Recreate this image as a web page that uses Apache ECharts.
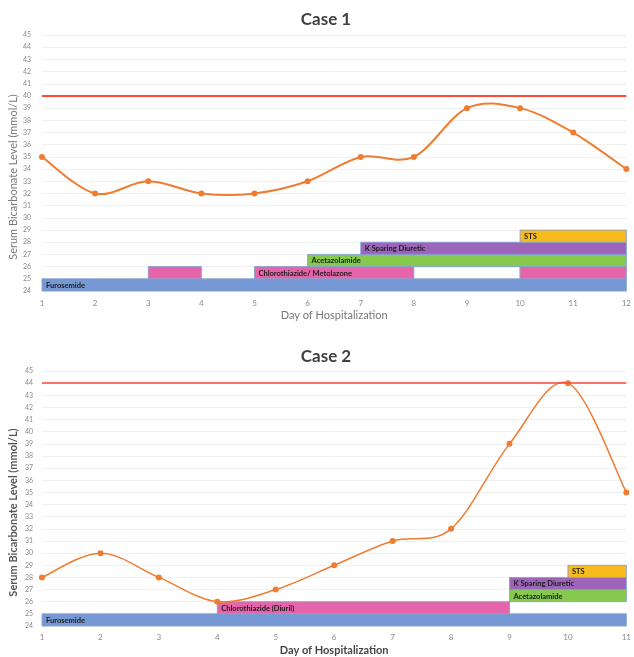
<!DOCTYPE html>
<html>
<head>
<meta charset="utf-8">
<script src="https://cdn.jsdelivr.net/npm/echarts@6/dist/echarts.min.js"></script>
<style>
html,body{margin:0;padding:0;background:#fff;}
#chart{width:634px;height:657px;}
</style>
</head>
<body>
<div id="chart"></div>
<script>
// ---------- DATA ----------
const yMin = 24;
const yMax = 45;

const case1Days = [1,2,3,4,5,6,7,8,9,10,11,12];
const case1Bicarbonate = [35,32,33,32,32,33,35,35,39,39,37,34];
const case1Limit = 40;
const case1DrugKind  = ["furosemide","thiazide","thiazide","none","thiazide","acetazolamide","ksparing","sts"];
const case1DrugLabel = ["Furosemide","","Chlorothiazide/ Metolazone","","","Acetazolamide","K Sparing Diuretic","STS"];
const case1DrugStart = [1,3,5,8,10,6,7,10];
const case1DrugEnd   = [12,4,8,10,12,12,12,12];
const case1DrugLane  = [0,1,1,1,1,2,3,4];

const case2Days = [1,2,3,4,5,6,7,8,9,10,11];
const case2Bicarbonate = [28,30,28,26,27,29,31,32,39,44,35];
const case2Limit = 44;
const case2DrugKind  = ["furosemide","thiazide","acetazolamide","ksparing","sts"];
const case2DrugLabel = ["Furosemide","Chlorothiazide (Diuril)","Acetazolamide","K Sparing Diuretic","STS"];
const case2DrugStart = [1,4,9,9,10];
const case2DrugEnd   = [11,9,11,11,11];
const case2DrugLane  = [0,1,2,3,4];

// ---------- STYLE ----------
const drugColors = {
  furosemide: '#7698d4',
  thiazide: '#e665aa',
  none: '#ffffff',
  acetazolamide: '#86c94e',
  ksparing: '#9c65b9',
  sts: '#f7bb1e'
};
const lineColor = '#ee7d31';
const limitColor = '#ff4a3a';
const font = 'Lato';

function drugData(kind, label, start, end, lane) {
  return kind.map((k, i) => ({
    value: [start[i], end[i], yMin + lane[i], yMin + lane[i] + 1],
    kind: k,
    label: label[i]
  }));
}

function makeRender(items) {
  return function (params, api) {
    const it = items[params.dataIndex];
    const pA = api.coord([api.value(0), api.value(3)]);
    const pB = api.coord([api.value(1), api.value(2)]);
    const x = pA[0], y = pA[1], w = pB[0] - pA[0], h = pB[1] - pA[1];
    const children = [{
      type: 'rect',
      shape: { x: x, y: y, width: w, height: h },
      style: { fill: drugColors[it.kind], stroke: 'rgba(130,160,210,0.85)', lineWidth: 1 }
    }];
    if (it.label) {
      children.push({
        type: 'text',
        style: {
          text: it.label, x: x + 4, y: y + h / 2 + 0.5,
          verticalAlign: 'middle', align: 'left',
          font: 'bold 7.5px ' + font, fill: '#1c1c1c'
        }
      });
    }
    return { type: 'group', children: children };
  };
}

// smoothed curve (Excel-like Catmull-Rom) through the data, one segment per point
function makeCurve(days, vals, width) {
  return function (params, api) {
    const i = params.dataIndex;
    if (i >= days.length - 1) return null;
    const P = k => {
      const j = Math.max(0, Math.min(days.length - 1, k));
      return api.coord([days[j], vals[j]]);
    };
    const p0 = P(i - 1), p1 = P(i), p2 = P(i + 1), p3 = P(i + 2);
    const t = 1 / 6;
    const c1 = [p1[0] + (p2[0] - p0[0]) * t, p1[1] + (p2[1] - p0[1]) * t];
    const c2 = [p2[0] - (p3[0] - p1[0]) * t, p2[1] - (p3[1] - p1[1]) * t];
    return {
      type: 'bezierCurve',
      shape: { x1: p1[0], y1: p1[1], x2: p2[0], y2: p2[1],
               cpx1: c1[0], cpy1: c1[1], cpx2: c2[0], cpy2: c2[1] },
      style: { stroke: lineColor, lineWidth: width, fill: null }
    };
  };
}

const c1Items = drugData(case1DrugKind, case1DrugLabel, case1DrugStart, case1DrugEnd, case1DrugLane);
const c2Items = drugData(case2DrugKind, case2DrugLabel, case2DrugStart, case2DrugEnd, case2DrugLane);

function xAxis(idx, max, bold, margin, gap) {
  return {
    type: 'value', gridIndex: idx, min: 1, max: max, interval: 1,
    axisLine: { show: false }, axisTick: { show: false }, splitLine: { show: false },
    axisLabel: { fontSize: 8, color: '#8a8a8a', margin: margin, fontFamily: font },
    name: 'Day of Hospitalization', nameLocation: 'middle', nameGap: gap,
    nameTextStyle: { fontSize: 11, color: bold ? '#454545' : '#777', fontWeight: bold ? 'bold' : 'normal', fontFamily: font }
  };
}
function yAxis(idx, bold, margin) {
  return {
    type: 'value', gridIndex: idx, min: yMin, max: yMax, interval: 1,
    axisLine: { show: false }, axisTick: { show: false },
    splitLine: { show: true, lineStyle: { color: '#f0f0f0', width: 1 } },
    axisLabel: { fontSize: 7, color: '#8a8a8a', margin: margin, fontFamily: font },
    name: 'Serum Bicarbonate Level (mmol/L)', nameLocation: 'middle', nameGap: 23,
    nameMoveOverlap: false,
    nameTextStyle: { fontSize: 11, color: bold ? '#555' : '#7a7a7a', fontWeight: bold ? 'bold' : 'normal',
      fontFamily: font, padding: [0, 28, 0, 0] }
  };
}

const chart = echarts.init(document.getElementById('chart'));
chart.setOption({
  backgroundColor: '#ffffff',
  animation: false,
  title: [
    { text: 'Case 1', left: 321, top: 6, textAlign: 'center',
      textStyle: { fontSize: 17, fontWeight: 'bold', color: '#3f3f3f', fontFamily: font } },
    { text: 'Case 2', left: 321, top: 343, textAlign: 'center',
      textStyle: { fontSize: 17, fontWeight: 'bold', color: '#3f3f3f', fontFamily: font } }
  ],
  grid: [
    { left: 41, right: 3, top: 35, height: 256 },
    { left: 39, right: 4, top: 371, height: 256 }
  ],
  xAxis: [ xAxis(0, 12, false, 8, 19), xAxis(1, 11, true, 7, 19) ],
  yAxis: [ yAxis(0, false, 11), yAxis(1, true, 9) ],
  series: [
    { type: 'custom', xAxisIndex: 0, yAxisIndex: 0, renderItem: makeRender(c1Items),
      data: c1Items.map(d => d.value), encode: { x: [0, 1], y: [2, 3] }, z: 1 },
    { type: 'custom', xAxisIndex: 1, yAxisIndex: 1, renderItem: makeRender(c2Items),
      data: c2Items.map(d => d.value), encode: { x: [0, 1], y: [2, 3] }, z: 1 },
    { type: 'custom', xAxisIndex: 0, yAxisIndex: 0, renderItem: makeCurve(case1Days, case1Bicarbonate, 2),
      data: case1Days.map((d, i) => [d, case1Bicarbonate[i]]), encode: { x: 0, y: 1 }, z: 2 },
    { type: 'custom', xAxisIndex: 1, yAxisIndex: 1, renderItem: makeCurve(case2Days, case2Bicarbonate, 1.5),
      data: case2Days.map((d, i) => [d, case2Bicarbonate[i]]), encode: { x: 0, y: 1 }, z: 2 },
    { type: 'line', xAxisIndex: 0, yAxisIndex: 0,
      data: case1Days.map((d, i) => [d, case1Bicarbonate[i]]),
      symbol: 'circle', symbolSize: 6, itemStyle: { color: lineColor },
      lineStyle: { width: 0, opacity: 0 }, z: 3,
      markLine: { silent: true, symbol: 'none', label: { show: false },
        lineStyle: { color: limitColor, width: 2, type: 'solid', opacity: 1 },
        data: [{ yAxis: case1Limit }] } },
    { type: 'line', xAxisIndex: 1, yAxisIndex: 1,
      data: case2Days.map((d, i) => [d, case2Bicarbonate[i]]),
      symbol: 'circle', symbolSize: 6, itemStyle: { color: lineColor },
      lineStyle: { width: 0, opacity: 0 }, z: 3,
      markLine: { silent: true, symbol: 'none', label: { show: false },
        lineStyle: { color: limitColor, width: 1.5, type: 'solid', opacity: 1 },
        data: [{ yAxis: case2Limit }] } }
  ]
});
</script>
</body>
</html>
